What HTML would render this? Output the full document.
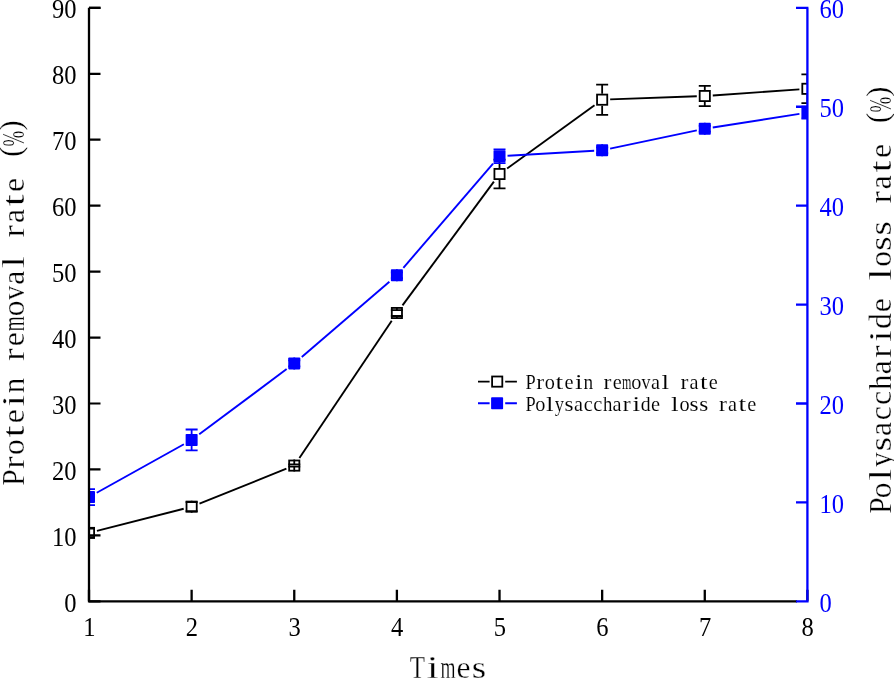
<!DOCTYPE html>
<html><head><meta charset="utf-8"><style>
html,body{margin:0;padding:0;background:#fff;width:894px;height:678px;overflow:hidden}
svg{display:block;will-change:transform}

</style></head><body>
<svg width="894" height="678" viewBox="0 0 894 678">
<defs><clipPath id="c"><rect x="89" y="0" width="718.4" height="602"/></clipPath></defs>
<g clip-path="url(#c)"><g stroke="#000" stroke-width="1.9" stroke-linecap="butt"><line x1="96.94" y1="530.89" x2="183.69" y2="508.71"/><line x1="199.49" y1="503.53" x2="286.40" y2="468.74"/><line x1="299.41" y1="457.94" x2="391.74" y2="320.67"/><line x1="402.51" y1="305.40" x2="493.90" y2="181.62"/><line x1="507.14" y1="168.49" x2="594.53" y2="105.21"/><line x1="610.15" y1="99.41" x2="696.78" y2="96.29"/><line x1="712.78" y1="95.44" x2="799.41" y2="89.37"/></g><g stroke="#00f" stroke-width="1.9" stroke-linecap="butt"><line x1="96.75" y1="492.74" x2="183.88" y2="444.29"/><line x1="199.23" y1="434.31" x2="286.66" y2="369.09"/><line x1="301.78" y1="356.97" x2="389.37" y2="281.75"/><line x1="403.37" y1="267.78" x2="493.04" y2="163.72"/><line x1="507.52" y1="155.74" x2="594.15" y2="150.73"/><line x1="610.11" y1="148.60" x2="696.82" y2="130.38"/><line x1="712.76" y1="127.46" x2="799.43" y2="113.93"/></g><rect x="83.90" y="527.82" width="10.2" height="10.2" fill="#fff" stroke="#000" stroke-width="1.8"/><path d="M89.00 526.92V528.70M89.00 538.92V537.14M83.00 528.70H95.00M83.00 537.14H95.00" stroke="#000" stroke-width="1.8" fill="none"/><rect x="186.53" y="501.58" width="10.2" height="10.2" fill="#fff" stroke="#000" stroke-width="1.8"/><path d="M191.63 500.68V502.19M191.63 512.68V511.16M185.63 502.19H197.63M185.63 511.16H197.63" stroke="#000" stroke-width="1.8" fill="none"/><rect x="289.16" y="460.50" width="10.2" height="10.2" fill="#fff" stroke="#000" stroke-width="1.8"/><path d="M294.26 459.60V464.47M294.26 471.60V466.72M288.26 464.47H300.26M288.26 466.72H300.26" stroke="#000" stroke-width="1.8" fill="none"/><rect x="391.79" y="307.91" width="10.2" height="10.2" fill="#fff" stroke="#000" stroke-width="1.8"/><path d="M396.89 307.01V310.04M396.89 319.01V315.98M390.89 310.04H402.89M390.89 315.98H402.89" stroke="#000" stroke-width="1.8" fill="none"/><rect x="494.42" y="168.91" width="10.2" height="10.2" fill="#fff" stroke="#000" stroke-width="1.8"/><path d="M499.52 168.01V159.63M499.52 180.01V188.38M493.52 159.63H505.52M493.52 188.38H505.52" stroke="#000" stroke-width="1.8" fill="none"/><rect x="597.05" y="94.59" width="10.2" height="10.2" fill="#fff" stroke="#000" stroke-width="1.8"/><path d="M602.15 93.69V84.53M602.15 105.69V114.86M596.15 84.53H608.15M596.15 114.86H608.15" stroke="#000" stroke-width="1.8" fill="none"/><rect x="699.68" y="90.90" width="10.2" height="10.2" fill="#fff" stroke="#000" stroke-width="1.8"/><path d="M704.78 90.00V85.78M704.78 102.00V106.22M698.78 85.78H710.78M698.78 106.22H710.78" stroke="#000" stroke-width="1.8" fill="none"/><rect x="802.31" y="83.71" width="10.2" height="10.2" fill="#fff" stroke="#000" stroke-width="1.8"/><path d="M807.41 82.81V74.44M807.41 94.81V103.19M801.41 74.44H813.41M801.41 103.19H813.41" stroke="#000" stroke-width="1.8" fill="none"/><rect x="83.00" y="491.05" width="12.0" height="12.0" fill="#00f" rx="0.8"/><path d="M89.00 491.05V489.04M89.00 503.05V505.06M83.00 489.04H95.00M83.00 505.06H95.00" stroke="#00f" stroke-width="1.8" fill="none"/><rect x="185.63" y="433.98" width="12.0" height="12.0" fill="#00f" rx="0.8"/><path d="M191.63 433.98V429.49M191.63 445.98V450.46M185.63 429.49H197.63M185.63 450.46H197.63" stroke="#00f" stroke-width="1.8" fill="none"/><rect x="288.26" y="357.42" width="12.0" height="12.0" fill="#00f" rx="0.8"/><path d="M294.26 357.42V360.45M294.26 369.42V366.39M288.26 360.45H300.26M288.26 366.39H300.26" stroke="#00f" stroke-width="1.8" fill="none"/><rect x="390.89" y="269.29" width="12.0" height="12.0" fill="#00f" rx="0.8"/><path d="M396.89 269.29V272.33M396.89 281.29V278.26M390.89 272.33H402.89M390.89 278.26H402.89" stroke="#00f" stroke-width="1.8" fill="none"/><rect x="493.52" y="150.20" width="12.0" height="12.0" fill="#00f" rx="0.8"/><path d="M499.52 150.20V149.38M499.52 162.20V163.03M493.52 149.38H505.52M493.52 163.03H505.52" stroke="#00f" stroke-width="1.8" fill="none"/><rect x="596.15" y="144.27" width="12.0" height="12.0" fill="#00f" rx="0.8"/><path d="M602.15 144.27V147.30M602.15 156.27V153.24M596.15 147.30H608.15M596.15 153.24H608.15" stroke="#00f" stroke-width="1.8" fill="none"/><rect x="698.78" y="122.71" width="12.0" height="12.0" fill="#00f" rx="0.8"/><path d="M704.78 122.71V125.74M704.78 134.71V131.68M698.78 125.74H710.78M698.78 131.68H710.78" stroke="#00f" stroke-width="1.8" fill="none"/><rect x="801.41" y="106.68" width="12.0" height="12.0" fill="#00f" rx="0.8"/><path d="M807.41 106.68V106.75M807.41 118.68V118.62M801.41 106.75H813.41M801.41 118.62H813.41" stroke="#00f" stroke-width="1.8" fill="none"/></g>
<path d="M89 7.85H100.5M89 601.3V7.85" stroke="#000" stroke-width="2.3" fill="none"/><path d="M89 601.30H100.5M89 535.36H100.5M89 469.42H100.5M89 403.48H100.5M89 337.54H100.5M89 271.60H100.5M89 205.66H100.5M89 139.72H100.5M89 73.78H100.5M89 7.84H100.5" stroke="#000" stroke-width="2.2" fill="none"/><path d="M87.9 601.3H797 M89.00 601.3V589.8M191.63 601.3V589.8M294.26 601.3V589.8M396.89 601.3V589.8M499.52 601.3V589.8M602.15 601.3V589.8M704.78 601.3V589.8M807.41 601.3V589.8" stroke="#000" stroke-width="2.3" fill="none"/><path d="M796 601.3H808.6 M807.41 602.4V7.85 M808.41 601.30H796M808.41 502.39H796M808.41 403.48H796M808.41 304.57H796M808.41 205.66H796M808.41 106.75H796M808.41 7.84H796" stroke="#00f" stroke-width="2.3" fill="none"/>
<g font-family="Liberation Serif" font-size="26.4" fill="#000"><text transform="translate(76.6 611.90) scale(0.93 1)" text-anchor="end">0</text><text transform="translate(76.6 545.96) scale(0.93 1)" text-anchor="end">10</text><text transform="translate(76.6 480.02) scale(0.93 1)" text-anchor="end">20</text><text transform="translate(76.6 414.08) scale(0.93 1)" text-anchor="end">30</text><text transform="translate(76.6 348.14) scale(0.93 1)" text-anchor="end">40</text><text transform="translate(76.6 282.20) scale(0.93 1)" text-anchor="end">50</text><text transform="translate(76.6 216.26) scale(0.93 1)" text-anchor="end">60</text><text transform="translate(76.6 150.32) scale(0.93 1)" text-anchor="end">70</text><text transform="translate(76.6 84.38) scale(0.93 1)" text-anchor="end">80</text><text transform="translate(76.6 18.44) scale(0.93 1)" text-anchor="end">90</text><text transform="translate(89.30 636.3) scale(0.93 1)" text-anchor="middle">1</text><text transform="translate(191.93 636.3) scale(0.93 1)" text-anchor="middle">2</text><text transform="translate(294.56 636.3) scale(0.93 1)" text-anchor="middle">3</text><text transform="translate(397.19 636.3) scale(0.93 1)" text-anchor="middle">4</text><text transform="translate(499.82 636.3) scale(0.93 1)" text-anchor="middle">5</text><text transform="translate(602.45 636.3) scale(0.93 1)" text-anchor="middle">6</text><text transform="translate(705.08 636.3) scale(0.93 1)" text-anchor="middle">7</text><text transform="translate(807.71 636.3) scale(0.93 1)" text-anchor="middle">8</text></g>
<g font-family="Liberation Serif" font-size="26.4" fill="#00f"><text transform="translate(819.6 611.90) scale(0.93 1)">0</text><text transform="translate(819.6 512.99) scale(0.93 1)">10</text><text transform="translate(819.6 414.08) scale(0.93 1)">20</text><text transform="translate(819.6 315.17) scale(0.93 1)">30</text><text transform="translate(819.6 216.26) scale(0.93 1)">40</text><text transform="translate(819.6 117.35) scale(0.93 1)">50</text><text transform="translate(819.6 18.44) scale(0.93 1)">60</text></g>
<g transform="translate(23.90 485.56) rotate(-90)" font-family="Liberation Serif" font-size="31.6" stroke="#fff" stroke-width="0.3"><text transform="translate(-0.31 0.00) scale(0.931 1)">P</text><text transform="translate(16.59 0.00) scale(1.203 1)">r</text><text transform="translate(30.65 0.00) scale(1.000 1)">o</text><text transform="translate(47.96 0.00) scale(1.350 1)">t</text><text transform="translate(62.31 0.00) scale(1.000 1)">e</text><text transform="translate(78.84 0.00) scale(1.350 1)">i</text><text transform="translate(92.35 0.00) scale(0.982 1)">n</text><text transform="translate(124.53 0.00) scale(1.203 1)">r</text><text transform="translate(139.41 0.00) scale(1.000 1)">e</text><text transform="translate(154.33 0.00) scale(0.612 1)">m</text><text transform="translate(169.43 0.00) scale(1.000 1)">o</text><text transform="translate(185.58 0.00) scale(0.908 1)">v</text><text transform="translate(200.82 0.00) scale(1.000 1)">a</text><text transform="translate(217.66 0.00) scale(1.350 1)">l</text><text transform="translate(247.89 0.00) scale(1.203 1)">r</text><text transform="translate(262.50 0.00) scale(1.000 1)">a</text><text transform="translate(279.26 0.00) scale(1.350 1)">t</text><text transform="translate(293.61 0.00) scale(1.000 1)">e</text><text transform="translate(328.55 -2.53) scale(1.000 1)">(</text><text transform="translate(339.14 0.00) scale(0.593 1)">%</text><text transform="translate(354.83 -2.53) scale(1.000 1)">)</text></g><g transform="translate(891.00 513.40) rotate(-90)" font-family="Liberation Serif" font-size="31.6" stroke="#fff" stroke-width="0.3"><text transform="translate(-0.31 0.00) scale(0.931 1)">P</text><text transform="translate(15.23 0.00) scale(1.000 1)">o</text><text transform="translate(32.62 0.00) scale(1.350 1)">l</text><text transform="translate(46.44 0.00) scale(0.938 1)">y</text><text transform="translate(62.09 0.00) scale(1.173 1)">s</text><text transform="translate(77.46 0.00) scale(1.000 1)">a</text><text transform="translate(93.10 0.00) scale(1.000 1)">c</text><text transform="translate(108.52 0.00) scale(1.000 1)">c</text><text transform="translate(123.61 0.00) scale(0.951 1)">h</text><text transform="translate(139.14 0.00) scale(1.000 1)">a</text><text transform="translate(155.37 0.00) scale(1.203 1)">r</text><text transform="translate(171.36 0.00) scale(1.350 1)">i</text><text transform="translate(184.47 0.00) scale(1.000 1)">d</text><text transform="translate(201.09 0.00) scale(1.000 1)">e</text><text transform="translate(233.08 0.00) scale(1.350 1)">l</text><text transform="translate(246.53 0.00) scale(1.000 1)">o</text><text transform="translate(262.55 0.00) scale(1.173 1)">s</text><text transform="translate(277.97 0.00) scale(1.173 1)">s</text><text transform="translate(309.57 0.00) scale(1.203 1)">r</text><text transform="translate(324.18 0.00) scale(1.000 1)">a</text><text transform="translate(340.94 0.00) scale(1.350 1)">t</text><text transform="translate(355.29 0.00) scale(1.000 1)">e</text><text transform="translate(390.23 -2.53) scale(1.000 1)">(</text><text transform="translate(400.82 0.00) scale(0.593 1)">%</text><text transform="translate(416.51 -2.53) scale(1.000 1)">)</text></g><g transform="translate(409.60 677.50)" font-family="Liberation Serif" font-size="31.6" stroke="#fff" stroke-width="0.3"><text transform="translate(0.09 0.00) scale(0.788 1)">T</text><text transform="translate(17.16 0.00) scale(1.350 1)">i</text><text transform="translate(30.97 0.00) scale(0.612 1)">m</text><text transform="translate(46.89 0.00) scale(1.000 1)">e</text><text transform="translate(62.09 0.00) scale(1.173 1)">s</text></g>
<g>
<path d="M478 381.6H489.6M505.2 381.6H516.9" stroke="#000" stroke-width="1.95"/>
<rect x="492.1" y="376.5" width="10.2" height="10.2" fill="#fff" stroke="#000" stroke-width="1.8"/>
<path d="M478 403.2H489.6M505.2 403.2H516.9" stroke="#00f" stroke-width="1.95"/>
<rect x="491.1" y="397.2" width="12" height="12" fill="#00f" rx="0.8"/>
<g transform="translate(525.80 388.80)" font-family="Liberation Serif" font-size="20.3" stroke="#fff" stroke-width="0.1"><text transform="translate(-0.19 0.00) scale(0.904 1)">P</text><text transform="translate(10.35 0.00) scale(1.168 1)">r</text><text transform="translate(18.97 0.00) scale(1.000 1)">o</text><text transform="translate(29.81 0.00) scale(1.350 1)">t</text><text transform="translate(38.74 0.00) scale(1.000 1)">e</text><text transform="translate(49.08 0.00) scale(1.350 1)">i</text><text transform="translate(57.61 0.00) scale(0.954 1)">n</text><text transform="translate(77.69 0.00) scale(1.168 1)">r</text><text transform="translate(86.84 0.00) scale(1.000 1)">e</text><text transform="translate(96.28 0.00) scale(0.595 1)">m</text><text transform="translate(105.55 0.00) scale(1.000 1)">o</text><text transform="translate(115.78 0.00) scale(0.881 1)">v</text><text transform="translate(125.15 0.00) scale(1.000 1)">a</text><text transform="translate(135.68 0.00) scale(1.350 1)">l</text><text transform="translate(154.65 0.00) scale(1.168 1)">r</text><text transform="translate(163.63 0.00) scale(1.000 1)">a</text><text transform="translate(174.11 0.00) scale(1.350 1)">t</text><text transform="translate(183.04 0.00) scale(1.000 1)">e</text></g><g transform="translate(525.80 410.60)" font-family="Liberation Serif" font-size="20.3" stroke="#fff" stroke-width="0.1"><text transform="translate(-0.19 0.00) scale(0.904 1)">P</text><text transform="translate(9.36 0.00) scale(1.000 1)">o</text><text transform="translate(20.24 0.00) scale(1.350 1)">l</text><text transform="translate(28.97 0.00) scale(0.911 1)">y</text><text transform="translate(38.73 0.00) scale(1.139 1)">s</text><text transform="translate(48.19 0.00) scale(1.000 1)">a</text><text transform="translate(57.95 0.00) scale(1.000 1)">c</text><text transform="translate(67.57 0.00) scale(1.000 1)">c</text><text transform="translate(77.11 0.00) scale(0.924 1)">h</text><text transform="translate(86.67 0.00) scale(1.000 1)">a</text><text transform="translate(96.93 0.00) scale(1.168 1)">r</text><text transform="translate(106.80 0.00) scale(1.350 1)">i</text><text transform="translate(115.06 0.00) scale(0.976 1)">d</text><text transform="translate(125.32 0.00) scale(1.000 1)">e</text><text transform="translate(145.30 0.00) scale(1.350 1)">l</text><text transform="translate(153.66 0.00) scale(1.000 1)">o</text><text transform="translate(163.79 0.00) scale(1.139 1)">s</text><text transform="translate(173.41 0.00) scale(1.139 1)">s</text><text transform="translate(193.13 0.00) scale(1.168 1)">r</text><text transform="translate(202.11 0.00) scale(1.000 1)">a</text><text transform="translate(212.59 0.00) scale(1.350 1)">t</text><text transform="translate(221.52 0.00) scale(1.000 1)">e</text></g>
</g>
</svg>
</body></html>
